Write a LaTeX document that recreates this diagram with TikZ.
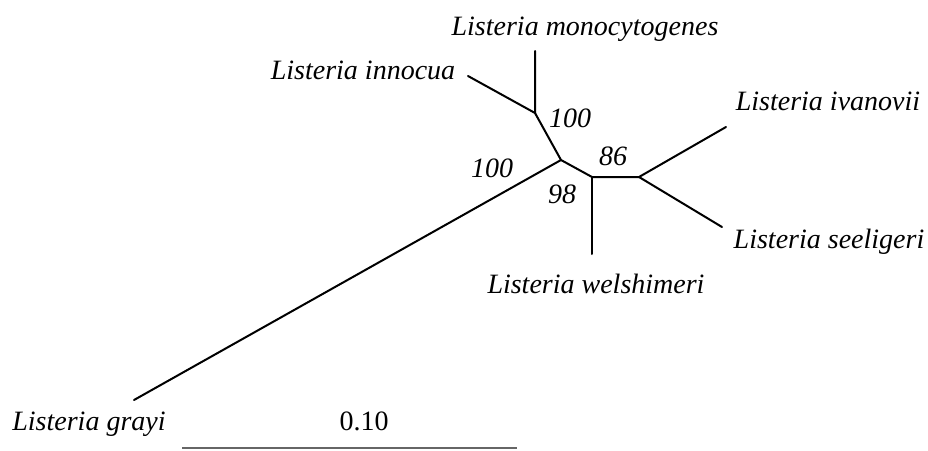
\documentclass[tikz,border=0pt]{standalone}
\usepackage{fontspec}
\setmainfont{Liberation Serif}
\usetikzlibrary{positioning}

\begin{document}
\begin{tikzpicture}[x=1pt, y=-1pt,
  font=\fontsize{28}{32}\selectfont,
  branch/.style={line width=2pt, line cap=round},
  taxon/.style={font=\fontsize{28}{32}\selectfont\itshape, anchor=base, inner sep=0pt},
  boot/.style={taxon},
  scalebar/.style={line width=2pt, black!60}]
  \useasboundingbox (0,0) rectangle (928,450);
  % inner nodes of the tree
  \coordinate (nA) at (535,113);
  \coordinate (nB) at (561,160);
  \coordinate (nC) at (592,177);
  \coordinate (nD) at (639,177);
  % branch tips
  \coordinate (tMono) at (535,51);
  \coordinate (tInno) at (468,76);
  \coordinate (tGray) at (134,400);
  \coordinate (tWels) at (592,254);
  \coordinate (tIvan) at (726,127);
  \coordinate (tSeel) at (722,227);
  % species
  \node[taxon] (mono) at (585,35) {Listeria monocytogenes};
  \node[taxon] (inno) at (363,79) {Listeria innocua};
  \node[taxon] (ivan) at (828,110) {Listeria ivanovii};
  \node[taxon] (seel) at (829,248) {Listeria seeligeri};
  \node[taxon] (wels) at (596,293) {Listeria welshimeri};
  \node[taxon] (gray) at (89,430) {Listeria grayi};
  % bootstrap values
  \node[boot] (bA) at (570,127) {100};
  \node[boot] (bB) at (492,177) {100};
  \node[boot] (bD) at (613,165) {86};
  \node[boot] (bC) at (562,203) {98};
  % branches
  \draw[branch] (tInno) -- (nA) -- (tMono);
  \draw[branch] (nA) -- (nB) -- (nC) -- (nD) -- (tIvan);
  \draw[branch] (nD) -- (tSeel);
  \draw[branch] (nC) -- (tWels);
  \draw[branch] (nB) -- (tGray);
  % scale
  \node[anchor=base] (scale) at (364,430) {0.10};
  \coordinate (barL) at (182,448);
  \coordinate (barR) at (517,448);
  \draw[scalebar] (barL) -- (barR);
\end{tikzpicture}
\end{document}
